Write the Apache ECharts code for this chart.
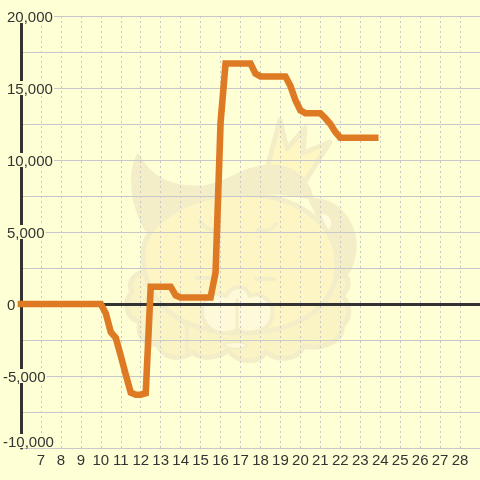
<!DOCTYPE html>
<html><head><meta charset="utf-8">
<style>html,body{margin:0;padding:0;background:#FFFFD5}#c{width:480px;height:480px}</style>
<script src="https://cdn.jsdelivr.net/npm/echarts@6/dist/echarts.min.js"></script>
</head><body><div id="c"></div>
<script>
const hours = [6,10,10.25,10.5,10.75,11,11.25,11.5,11.75,12,12.25,12.5,13.5,13.75,14,15.5,15.75,16,16.25,17.5,17.75,18,19.25,19.5,19.75,20,20.25,21,21.25,21.5,21.75,22,23.75];
const values = [0,0,-650,-1950,-2350,-3600,-4900,-6150,-6300,-6300,-6200,1200,1200,600,450,450,2200,12600,16700,16700,16000,15800,15800,15150,14150,13450,13250,13250,12900,12500,11950,11550,11550];
const xMin = 6, xMax = 29, yMin = -10000, yMax = 20000;
const data = hours.map((h,i)=>[h,values[i]]);
const fill='#FDF5C4', edge='#F4EEC8';
const mascot=[
 {d:'M150 272 C136 270 126 282 132 292 C124 300 124 318 140 322 C136 336 146 346 158 344 C160 358 182 362 192 352 C204 362 222 356 228 350 C238 364 258 364 266 352 C278 362 298 360 304 346 C320 350 344 342 342 326 C352 318 350 302 342 296 C352 286 350 274 336 270 Z',fill:'#FAF3C4',stroke:edge,w:5},
 {d:'M187 322 L187 352',fill:'none',stroke:edge,w:4},
 {d:'M148 204 C140 210 144 228 152 232 L176 208 Z',fill:'#FFFBDC',stroke:edge,w:5},
 {d:'M310 200 C336 196 358 224 355 250 C352 274 342 282 336 276 L320 220 Z',fill:edge,stroke:edge,w:3},
 {d:'M321 214 C331 214 334 224 328 231 Z',fill:'#FFFBDC',stroke:'none',w:0},
 {d:'M143 254 C143 222 190 194 240 194 C295 194 337 222 337 264 C337 306 300 333 240 333 C180 333 143 302 143 254 Z',fill:fill,stroke:edge,w:5},
 {d:'M267 168 L280 120 L287 149 L305 128 L303 153 L330 142 L306 180 Z',fill:'#FEF7C2',stroke:edge,w:5},
 {d:'M138 155 C150 180 175 188 200 187 C225 186 240 168 268 166 C290 165 308 176 312 198 C285 192 255 192 235 194 C205 198 170 205 146 230 C132 205 128 175 138 155 Z',fill:edge,stroke:edge,w:3},
 {d:'M203 318 C198 300 214 288 226 296 C232 284 246 284 250 296 C262 290 276 304 272 318 C268 332 248 336 238 330 C226 336 208 334 203 318 Z',fill:'#FEF9D8',stroke:edge,w:4},
 {d:'M237 300 L237 328',fill:'none',stroke:edge,w:3},
 {d:'M223 345 C232 350 242 350 248 345 C240 341 230 341 223 345 Z',fill:'#FEF9D8',stroke:edge,w:2},
 {d:'M200 221 C204 228 212 232 220 229',fill:'none',stroke:edge,w:4},
 {d:'M258 230 C266 232 272 230 276 224',fill:'none',stroke:edge,w:4},
 {d:'M197 278 L210 278',fill:'none',stroke:edge,w:4},
 {d:'M256 279 L274 279',fill:'none',stroke:edge,w:4}
];
mascot.forEach((m,i)=>echarts.graphic.registerShape('mascot'+i, echarts.graphic.extendPath(m.d,{})));
const chart = echarts.init(document.getElementById('c'));
const fmtNum = v => v.toLocaleString('en-US');
chart.setOption({
 animation:false,
 backgroundColor:'#FFFFD5',
 graphic:{elements:mascot.map((m,i)=>({type:'mascot'+i,z:-10,silent:true,
   style:{fill:m.fill==='none'?null:m.fill,stroke:m.stroke==='none'?null:m.stroke,lineWidth:m.w,lineCap:'round',lineJoin:'round'}}))},
 grid:{left:20.5,right:-0.5,top:16,bottom:32},
 xAxis:[{
   type:'value',min:xMin,max:xMax,interval:1,
   axisLine:{show:false,onZero:false},axisTick:{show:false},
   axisLabel:{color:'#333',fontFamily:'Liberation Sans',fontSize:15,margin:5,showMinLabel:false,showMaxLabel:false,hideOverlap:false},
   splitLine:{show:true,lineStyle:{color:'#c8c8c8',width:1,type:[2,3]}}
  },{
   type:'value',min:xMin,max:xMax,interval:1,position:'top',
   axisLine:{show:true,onZero:true,lineStyle:{color:'#333',width:3}},axisTick:{show:false},
   axisLabel:{show:false},splitLine:{show:false}
  }],
 yAxis:{
   type:'value',min:yMin,max:yMax,interval:2500,
   axisLine:{show:true,onZero:false,lineStyle:{color:'#333',width:3}},axisTick:{show:false},
   splitLine:{show:true,lineStyle:{color:'#c8c8cc',width:1}},
   axisLabel:{margin:18,align:'left',color:'#333',fontFamily:'Liberation Sans',fontSize:15,
     verticalAlignMinLabel:'bottom',
     formatter:v=>{ if(v%5000!==0) return ''; return (v<0?'{n|':'{p|')+fmtNum(v)+'}'; },
     rich:{
       p:{padding:[4,1,0,4],height:10,backgroundColor:'#FFFFD5',color:'#333',fontFamily:'Liberation Sans',fontSize:15},
       n:{padding:[4,1,0,0],height:10,backgroundColor:'#FFFFD5',color:'#333',fontFamily:'Liberation Sans',fontSize:15}
     }}
 },
 series:[{type:'line',xAxisIndex:0,data:data,showSymbol:false,clip:false,z:5,
   lineStyle:{color:'#DF7A24',width:6.6,cap:'square',join:'miter'}}]
});
</script></body></html>
